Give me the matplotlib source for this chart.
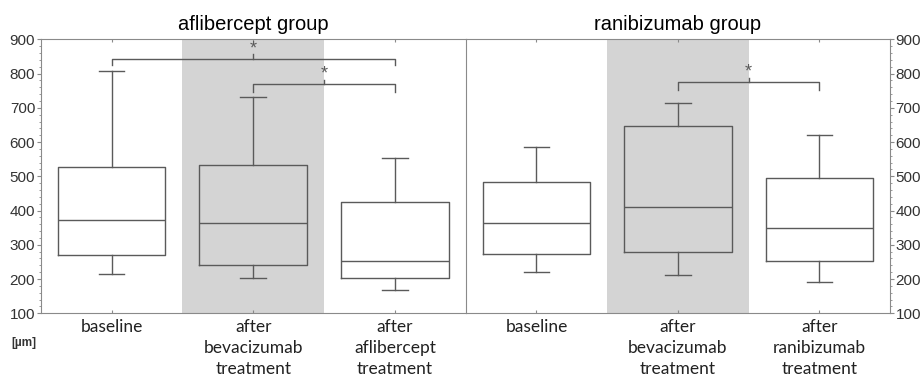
import numpy as np
import matplotlib
matplotlib.use("Agg")
import matplotlib.pyplot as plt
from matplotlib.ticker import MultipleLocator

# values, in µm
afl_labels = ["baseline", "after\nbevacizumab\ntreatment", "after\naflibercept\ntreatment"]
afl_whislo = [216, 202, 168]
afl_q1 = [269, 242, 203]
afl_med = [371, 363, 254]
afl_q3 = [527, 534, 426]
afl_whishi = [807, 732, 553]

ran_labels = ["baseline", "after\nbevacizumab\ntreatment", "after\nranibizumab\ntreatment"]
ran_whislo = [219, 212, 192]
ran_q1 = [273, 279, 254]
ran_med = [364, 409, 350]
ran_q3 = [482, 648, 494]
ran_whishi = [585, 713, 621]

# significance brackets: (left, right, height, drop)
afl_sig = [(0, 2, 844, 825), (1, 2, 770, 747)]
ran_sig = [(1, 2, 776, 752)]

titles = ["aflibercept group", "ranibizumab group"]

SPINE = "#8a8a8a"
LINE = "#5a5a5a"
SHADE = "#d4d4d4"
LABEL_FONT = ["Lato", "DejaVu Sans"]
TICK_FONT = ["Liberation Sans", "DejaVu Sans"]


def make_stats(lo, q1, med, q3, hi):
    out = []
    for a, b, c, d, e in zip(lo, q1, med, q3, hi):
        out.append(dict(whislo=a, q1=b, med=c, q3=d, whishi=e, fliers=[]))
    return out


def draw_panel(ax, stats, labels, sig, title, side):
    ax.axvspan(0.5, 1.5, color=SHADE, zorder=0, lw=0)
    style = dict(color=LINE, linewidth=1.0)
    ax.bxp(stats, positions=[0, 1, 2], widths=0.76, capwidths=0.18,
           showfliers=False, patch_artist=False,
           boxprops=style, medianprops=style, whiskerprops=style, capprops=style)

    for x0, x1, h, d in sig:
        ax.plot([x0, x0, x1, x1], [d, h, h, d], color=LINE, lw=1.0, clip_on=False)
        xm = (x0 + x1) / 2
        ax.plot([xm, xm], [h, h + 12], color=LINE, lw=1.0)
        ax.text(xm, h + 4, "*", ha="center", va="bottom", fontsize=13, color=LINE,
                family=TICK_FONT)

    ax.set_xlim(-0.5, 2.5)
    ax.set_ylim(100, 900)
    ax.set_xticks([0, 1, 2])
    ax.set_xticklabels(labels, family=LABEL_FONT, fontsize=12.5, linespacing=1.4,
                       color="#222222")
    ax.tick_params(axis="x", direction="in", length=2, color=SPINE, top=True,
                   pad=4)
    ax.yaxis.set_major_locator(MultipleLocator(100))
    ax.yaxis.set_minor_locator(MultipleLocator(20))
    for sp in ax.spines.values():
        sp.set_color(SPINE)

    if side == "left":
        ax.spines["right"].set_visible(False)
        ax.tick_params(axis="y", which="both", left=True, right=False, color=SPINE)
    else:
        ax.tick_params(axis="y", which="both", left=False, right=True,
                       labelleft=False, labelright=True, color=SPINE)
    ax.tick_params(axis="y", which="major", length=3, pad=1, labelsize=11)
    ax.tick_params(axis="y", which="minor", length=1.5)
    for t in ax.get_yticklabels():
        t.set_family(TICK_FONT)
        t.set_color("#333333")
    ax.set_title(title, fontsize=14.5, family=TICK_FONT, pad=7, color="black")


fig = plt.figure(figsize=(9.21, 3.82), dpi=100)
ax1 = fig.add_axes([0.0442, 0.18, 0.4615, 0.717])
ax2 = fig.add_axes([0.5057, 0.18, 0.4607, 0.717])

draw_panel(ax1, make_stats(afl_whislo, afl_q1, afl_med, afl_q3, afl_whishi),
           afl_labels, afl_sig, titles[0], "left")
draw_panel(ax2, make_stats(ran_whislo, ran_q1, ran_med, ran_q3, ran_whishi),
           ran_labels, ran_sig, titles[1], "right")

fig.text(0.012, 0.095, "[µm]", fontsize=8.5, family=TICK_FONT, weight="bold",
         color="#333333")

fig.savefig("out.png", dpi=100)
